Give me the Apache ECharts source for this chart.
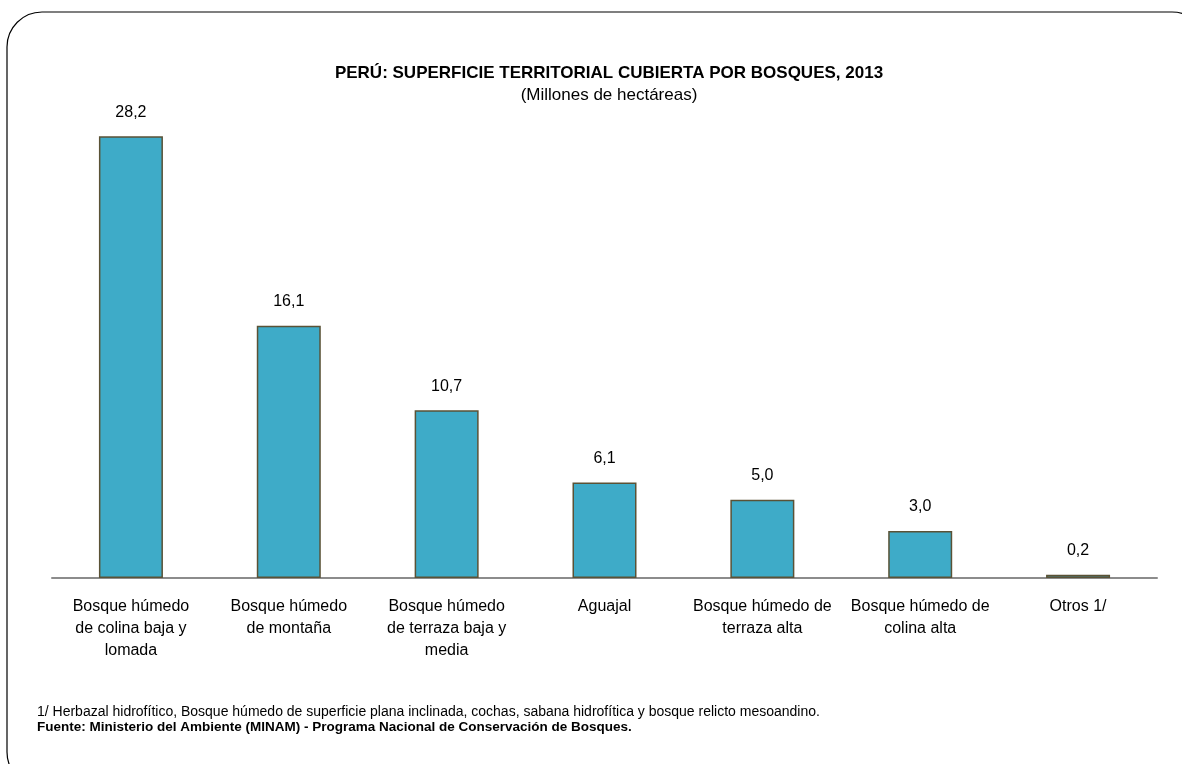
<!DOCTYPE html>
<html><head><meta charset="utf-8">
<script src="https://cdn.jsdelivr.net/npm/echarts@6/dist/echarts.min.js"></script>
<style>html,body{margin:0;padding:0;background:#fff}#c{width:1182px;height:764px}</style>
</head><body><div id="c"></div>
<script>
var categories = ['Bosque húmedo\nde colina baja y\nlomada','Bosque húmedo\nde montaña','Bosque húmedo\nde terraza baja y\nmedia','Aguajal','Bosque húmedo de\nterraza alta','Bosque húmedo de\ncolina alta','Otros 1/'];
var values = [28.2, 16.1, 10.7, 6.1, 5.0, 3.0, 0.2];
var titleText = 'PERÚ: SUPERFICIE TERRITORIAL CUBIERTA POR BOSQUES, 2013';
var subtitleText = '(Millones de hectáreas)';
var note1 = '1/ Herbazal hidrofítico, Bosque húmedo de superficie plana inclinada, cochas, sabana hidrofítica y bosque relicto mesoandino.';
var note2 = 'Fuente: Ministerio del Ambiente (MINAM) - Programa Nacional de Conservación de Bosques.';
var F = '"Liberation Sans Narrow","Arial Narrow","Liberation Sans",Arial,sans-serif';
var chart = echarts.init(document.getElementById('c'));
chart.setOption({
  animation:false,
  textStyle:{fontFamily:F},
  title:[{text:titleText,left:604,textAlign:'center',top:60,textStyle:{fontFamily:F,fontSize:17,fontWeight:'bold',color:'#000'}},
         {text:subtitleText,left:604,textAlign:'center',top:82,textStyle:{fontFamily:F,fontSize:17,fontWeight:'normal',color:'#000'}}],
  graphic:[
    {type:'rect',shape:{x:7,y:12,width:1200,height:775,r:35},style:{fill:'none',stroke:'#000',lineWidth:1.2},silent:true},
    {type:'text',left:37,top:705,style:{text:note1,font:'14px '+F,fill:'#000'}},
    {type:'text',left:37,top:720,style:{text:note2,font:'bold 13.5px '+F,fill:'#000'}}
  ],
  grid:{left:52,right:25,top:108,bottom:186,containLabel:false},
  xAxis:{type:'category',data:categories,axisLine:{lineStyle:{color:'#8c8c8c',width:2}},axisTick:{show:false},
    axisLabel:{interval:0,fontFamily:F,fontSize:16,color:'#000',lineHeight:22,margin:18}},
  yAxis:{type:'value',min:0,max:30,show:false,splitLine:{show:false}},
  series:[{type:'bar',data:values,barWidth:64,
    itemStyle:{color:'#3EABC8',borderColor:'#5a5236',borderWidth:1.5},
    label:{show:true,position:'top',distance:16,fontFamily:F,fontSize:16,color:'#000',formatter:function(p){return p.value.toFixed(1).replace('.',',');}}}]
});
</script></body></html>
